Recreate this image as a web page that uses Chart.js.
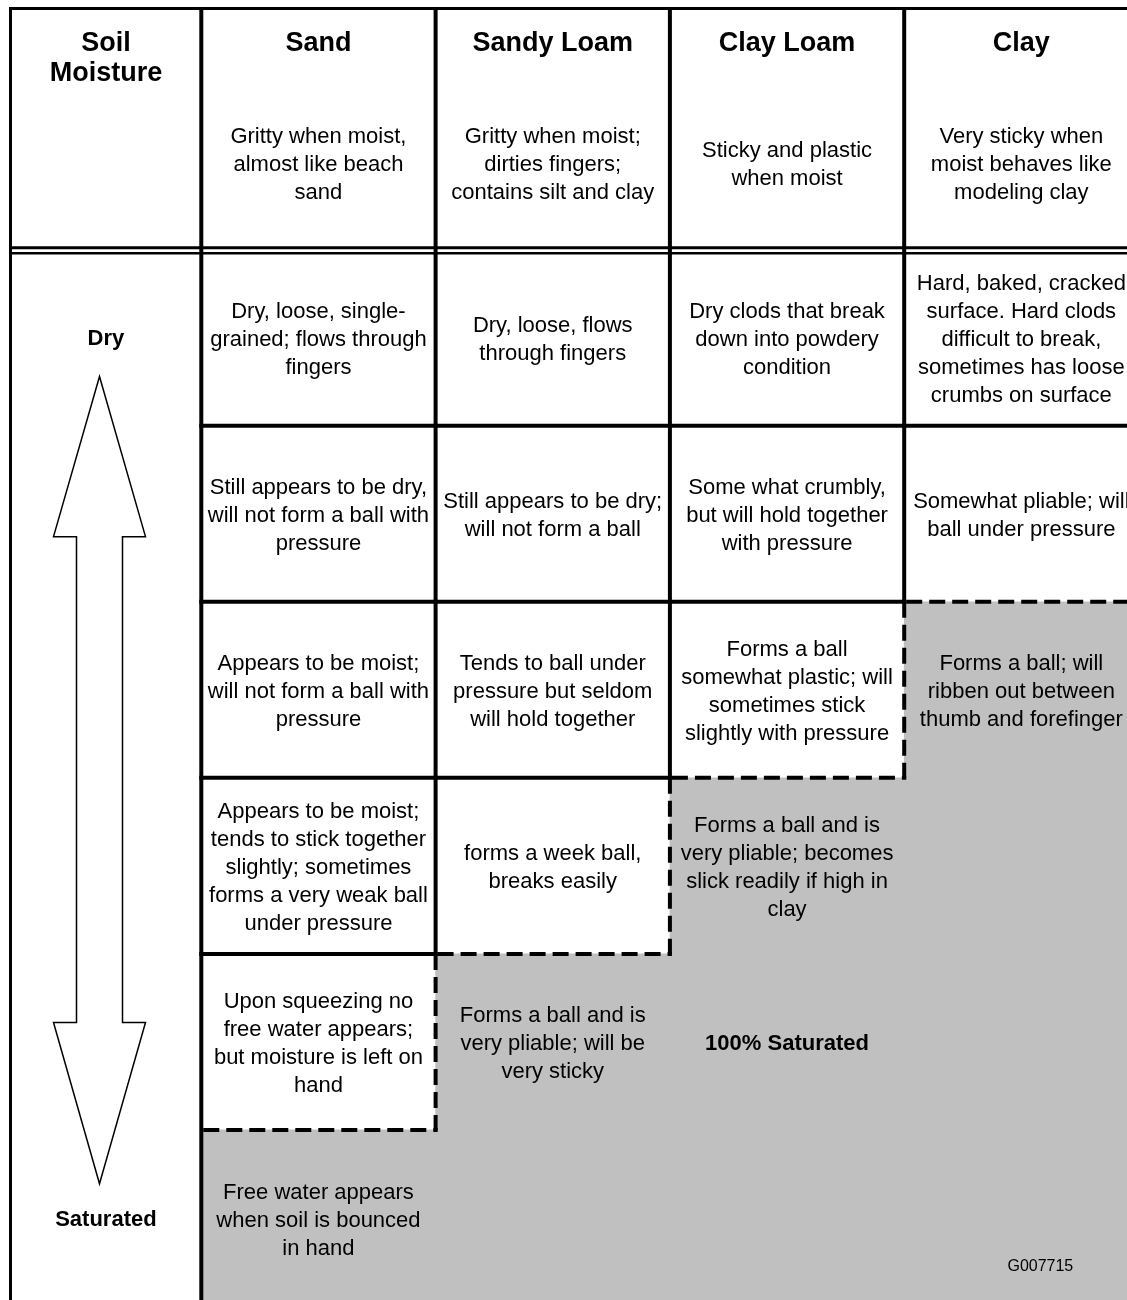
<!DOCTYPE html>
<html>
<head>
<meta charset="utf-8">
<script src="https://cdn.jsdelivr.net/npm/chart.js@4.4.1/dist/chart.umd.min.js"></script>
<style>
  html, body { margin: 0; padding: 0; background: #fff; overflow: hidden; }
  #wrap { width: 1127px; height: 1300px; overflow: hidden; position: relative; }
  canvas { position: absolute; left: 0; top: 0; }
</style>
</head>
<body>
<div id="wrap"><canvas id="c" width="1140" height="1306" style="width:1140px;height:1306px"></canvas></div>
<script>
// ---------- data ----------
const cornerTitle = ['Soil', 'Moisture'];
const soils = ['Sand', 'Sandy Loam', 'Clay Loam', 'Clay'];
const soilDescriptions = [
  'Gritty when moist,\nalmost like beach\nsand',
  'Gritty when moist;\ndirties fingers;\ncontains silt and clay',
  'Sticky and plastic\nwhen moist',
  'Very sticky when\nmoist behaves like\nmodeling clay'
];
const moistureLabels = ['Dry', '', '', '', '', 'Saturated'];
// row index (0 = driest) at which the soil is treated as saturated (grey area starts)
const saturationStartRow = [5, 4, 3, 2];
const sandTexts = [
  'Dry, loose, single-\ngrained; flows through\nfingers',
  'Still appears to be dry,\nwill not form a ball with\npressure',
  'Appears to be moist;\nwill not form a ball with\npressure',
  'Appears to be moist;\ntends to stick together\nslightly; sometimes\nforms a very weak ball\nunder pressure',
  'Upon squeezing no\nfree water appears;\nbut moisture is left on\nhand',
  'Free water appears\nwhen soil is bounced\nin hand'
];
const sandyLoamTexts = [
  'Dry, loose, flows\nthrough fingers',
  'Still appears to be dry;\nwill not form a ball',
  'Tends to ball under\npressure but seldom\nwill hold together',
  'forms a week ball,\nbreaks easily',
  'Forms a ball and is\nvery pliable; will be\nvery sticky',
  ''
];
const clayLoamTexts = [
  'Dry clods that break\ndown into powdery\ncondition',
  'Some what crumbly,\nbut will hold together\nwith pressure',
  'Forms a ball\nsomewhat plastic; will\nsometimes stick\nslightly with pressure',
  'Forms a ball and is\nvery pliable; becomes\nslick readily if high in\nclay',
  '**100% Saturated',
  ''
];
const clayTexts = [
  'Hard, baked, cracked\nsurface. Hard clods\ndifficult to break,\nsometimes has loose\ncrumbs on surface',
  'Somewhat pliable; will\nball under pressure',
  'Forms a ball; will\nribben out between\nthumb and forefinger',
  '', '', ''
];
const figureCode = 'G007715';
// ---------- end data ----------

const cellTexts = [sandTexts, sandyLoamTexts, clayLoamTexts, clayTexts];
const rowCount = moistureLabels.length;
const FONT = '"Liberation Sans", Arial, Helvetica, sans-serif';
const GREY = '#c0c0c0';
const TEXT_SHIFT = 2.5;

function hline(ctx, x1, x2, y, w, dashed) {
  ctx.save();
  ctx.beginPath();
  ctx.lineWidth = w;
  ctx.strokeStyle = '#000';
  ctx.setLineDash(dashed ? [16, 7] : []);
  ctx.moveTo(x1, y); ctx.lineTo(x2, y);
  ctx.stroke();
  ctx.restore();
}
function vline(ctx, x, y1, y2, w, dashed) {
  ctx.save();
  ctx.beginPath();
  ctx.lineWidth = w;
  ctx.strokeStyle = '#000';
  ctx.setLineDash(dashed ? [16, 7] : []);
  ctx.moveTo(x, y1); ctx.lineTo(x, y2);
  ctx.stroke();
  ctx.restore();
}
function multiText(ctx, text, x, yc, size, lh, bold) {
  if (!text) return;
  if (text.startsWith('**')) { bold = true; text = text.slice(2); }
  const lines = text.split('\n');
  ctx.save();
  ctx.fillStyle = '#000';
  ctx.font = (bold ? 'bold ' : '') + size + 'px ' + FONT;
  ctx.textAlign = 'center';
  ctx.textBaseline = 'middle';
  const y0 = yc + TEXT_SHIFT - (lines.length - 1) * lh / 2;
  lines.forEach((l, i) => ctx.fillText(l, x, y0 + i * lh));
  ctx.restore();
}

const tablePlugin = {
  id: 'tablePlugin',
  afterDatasetsDraw(chart) {
    const ctx = chart.ctx;
    const xs = chart.scales.x, ys = chart.scales.y;
    const ca = chart.chartArea;
    const colW = xs.getPixelForValue(1) - xs.getPixelForValue(0);
    const colEdge = i => xs.getPixelForValue(0) - colW / 2 + i * colW;
    const rowY = r => ys.getPixelForValue(r);
    const outerLeft = 10.5;
    const top = ca.top;
    const bottom = ca.bottom;
    const y0 = rowY(0);

    // first column arrow
    const cx = 99.5;
    const tipTop = rowY(0.72), baseTop = rowY(1.63);
    const tipBot = rowY(5.305), baseBot = rowY(4.39);
    ctx.save();
    ctx.beginPath();
    ctx.moveTo(cx, tipTop);
    ctx.lineTo(cx + 46, baseTop);
    ctx.lineTo(cx + 23, baseTop);
    ctx.lineTo(cx + 23, baseBot);
    ctx.lineTo(cx + 46, baseBot);
    ctx.lineTo(cx, tipBot);
    ctx.lineTo(cx - 46, baseBot);
    ctx.lineTo(cx - 23, baseBot);
    ctx.lineTo(cx - 23, baseTop);
    ctx.lineTo(cx - 46, baseTop);
    ctx.closePath();
    ctx.fillStyle = '#fff';
    ctx.fill();
    ctx.lineWidth = 1.5;
    ctx.strokeStyle = '#000';
    ctx.stroke();
    ctx.restore();

    // outer borders
    hline(ctx, outerLeft - 1.5, ca.right, top, 3, false);
    vline(ctx, outerLeft, top - 1.5, bottom, 3, false);
    // header double line
    hline(ctx, outerLeft, ca.right, y0 - 2, 3, false);
    hline(ctx, outerLeft, ca.right, y0 + 3.5, 2.5, false);
    // first column right edge
    vline(ctx, colEdge(0), top, bottom, 4, false);

    // vertical boundaries between soils
    for (let k = 0; k < soils.length; k++) {
      const x = colEdge(k + 1);
      vline(ctx, x, top, y0 + 5, 4, false);
      const satL = saturationStartRow[k];
      const satR = k + 1 < soils.length ? saturationStartRow[k + 1] : satL;
      const solidEnd = Math.min(satL, satR);
      vline(ctx, x, y0 + 4, rowY(solidEnd) + 2, 4, false);
      if (satL !== satR) {
        vline(ctx, x, rowY(Math.min(satL, satR)), rowY(Math.max(satL, satR)) + 2, 4, true);
      }
    }
    // horizontal row lines
    for (let c = 0; c < soils.length; c++) {
      const x1 = colEdge(c), x2 = colEdge(c + 1);
      for (let r = 1; r < rowCount; r++) {
        if (r < saturationStartRow[c]) hline(ctx, x1 - 2, x2 + 2, rowY(r), 4, false);
        else if (r === saturationStartRow[c]) hline(ctx, x1 + 2, x2 + 2, rowY(r), 4, true);
      }
    }

    // header texts
    const firstColCenter = (outerLeft + colEdge(0)) / 2;
    multiText(ctx, cornerTitle.join('\n'), firstColCenter, top + 47.5, 27, 30, true);
    soils.forEach((s, i) => {
      const x = xs.getPixelForValue(i);
      multiText(ctx, s, x, top + 32.5, 27, 30, true);
      multiText(ctx, soilDescriptions[i], x, top + 153.5, 22, 28, false);
    });
    // moisture labels
    moistureLabels.forEach((m, r) => {
      if (m) multiText(ctx, m, firstColCenter, rowY(r + 0.5) - 1, 22, 28, true);
    });
    // cells
    cellTexts.forEach((col, c) => {
      const x = xs.getPixelForValue(c);
      col.forEach((t, r) => multiText(ctx, t, x, rowY(r + 0.5), 22, 28, false));
    });
    // figure code
    multiText(ctx, figureCode, xs.getPixelForValue(soils.length - 1) + 19, rowY(rowCount - 0.5) + 46, 16, 18, false);
  }
};

new Chart(document.getElementById('c'), {
  type: 'bar',
  data: {
    labels: soils,
    datasets: [{
      label: 'Saturated',
      data: saturationStartRow.map(r => [r, rowCount]),
      backgroundColor: GREY,
      borderWidth: 0,
      barPercentage: 1,
      categoryPercentage: 1
    }]
  },
  options: {
    responsive: false,
    animation: false,
    devicePixelRatio: 1,
    layout: { padding: { left: 201.3, right: 1.5, top: 8.5, bottom: 0 } },
    plugins: { legend: { display: false }, tooltip: { enabled: false } },
    scales: {
      x: { display: false, offset: true },
      y: { display: false, type: 'linear', reverse: true, min: -1.37, max: 6 }
    }
  },
  plugins: [tablePlugin]
});
</script>
</body>
</html>
